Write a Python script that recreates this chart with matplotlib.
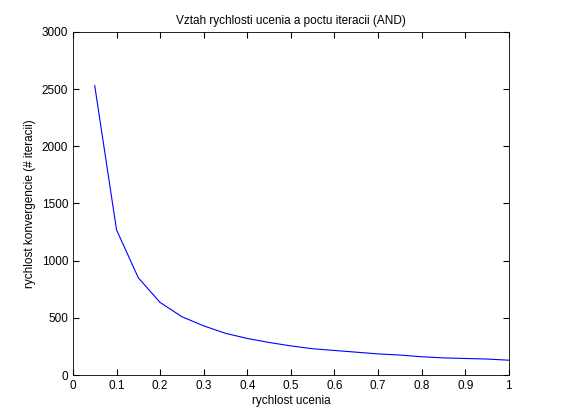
import numpy as np
import matplotlib.pyplot as plt

rate = [0.05, 0.1, 0.15, 0.2, 0.25, 0.3, 0.35, 0.4, 0.45, 0.5,
        0.55, 0.6, 0.65, 0.7, 0.75, 0.8, 0.85, 0.9, 0.95, 1.0]
iters = [2530, 1270, 850, 635, 510, 430, 365, 320, 285, 255,
         230, 215, 200, 185, 175, 160, 150, 145, 140, 130]

plt.rcParams['font.family'] = ['Liberation Sans', 'DejaVu Sans']
fig = plt.figure(figsize=(5.61, 4.2), dpi=100)
ax = fig.add_axes([0.130, 0.107, 0.777, 0.817])
ax.plot(rate, iters, color="blue", linewidth=0.8)
ax.set_xlim(0, 1)
ax.set_ylim(0, 3000)
ax.set_xticks(np.arange(0, 1.01, 0.1))
ax.set_xticklabels(["0", "0.1", "0.2", "0.3", "0.4", "0.5", "0.6", "0.7", "0.8", "0.9", "1"])
ax.set_yticks(np.arange(0, 3001, 500))
ax.tick_params(direction="in", top=True, right=True, labelsize=8.5, length=4)
ax.set_xlabel("rychlost ucenia", fontsize=8.5, labelpad=2)
ax.set_ylabel("rychlost konvergencie (# iteracii)", fontsize=8.5)
ax.set_title("Vztah rychlosti ucenia a poctu iteracii (AND)", fontsize=8.5)
for s in ax.spines.values():
    s.set_linewidth(0.6)

plt.savefig("out.png", dpi=100)
